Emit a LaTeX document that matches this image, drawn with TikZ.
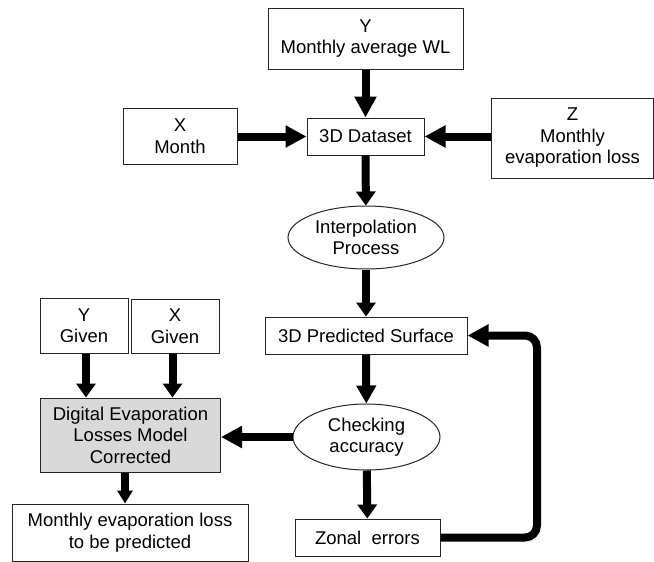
\documentclass[tikz,border=0pt]{standalone}
\usepackage{fontspec}
\setmainfont{Liberation Sans}
\usetikzlibrary{arrows.meta,shapes.geometric}
\begin{document}
\begin{tikzpicture}[x=1pt,y=-1pt,
  box/.style={draw=black!85,line width=1pt,rectangle,inner sep=0pt,align=center,
    font=\fontsize{18.5}{21.5}\selectfont},
  oval/.style={draw=black!85,line width=1pt,ellipse,inner sep=0pt,align=center,
    font=\fontsize{18.5}{21.5}\selectfont},
  bigflow/.style={line width=8pt,-{Triangle[length=21pt,width=21pt]}},
  smallflow/.style={line width=8pt,-{Triangle[length=14pt,width=19pt]}}]
\useasboundingbox (0,0) rectangle (654,562);

% input data
\node[box,minimum width=195pt,minimum height=61pt] (ybox) at (365.5,38.5) {Y\\Monthly average WL};
\node[box,minimum width=114pt,minimum height=56pt] (xbox) at (180,136) {X\\Month};
\node[box,minimum width=117pt,minimum height=37pt] (data) at (365.5,136.5) {3D Dataset};
\node[box,minimum width=162pt,minimum height=80pt] (zbox) at (572.5,138) {Z\\Monthly\\evaporation loss};

% processing column
\node[oval,minimum width=156pt,minimum height=63pt] (interp) at (366,237.5) {Interpolation\\Process};
\node[box,minimum width=202pt,minimum height=37pt] (surf) at (366,335.5) {3D Predicted Surface};
\node[oval,minimum width=147pt,minimum height=66pt] (check) at (366.5,437) {Checking\\accuracy};
\node[box,minimum width=145pt,minimum height=37pt] (zonal) at (367.5,537.5) {Zonal~~errors};

% model branch
\node[box,minimum width=88pt,minimum height=55pt] (ygiven) at (84,325.5) {Y\\Given};
\node[box,minimum width=88pt,minimum height=54pt] (xgiven) at (175,326) {X\\Given};
\node[box,fill=black!15,minimum width=180pt,minimum height=74pt] (model) at (130.5,435)
  {Digital Evaporation\\Losses Model\\Corrected};
\node[box,minimum width=236pt,minimum height=57pt] (result) at (130,532.5)
  {Monthly evaporation loss\\to be predicted};

\coordinate (loopx) at (537,0);
\coordinate (ya) at (86,0);
\coordinate (xa) at (172.5,0);
\coordinate (ma) at (125,0);

% connectors
\draw[bigflow] (ybox) -- (data);
\draw[bigflow] (xbox.east |- data) -- (data.west);
\draw[bigflow] (zbox.west |- data) -- (data.east);
\draw[smallflow] (data) -- (interp);
\draw[smallflow] (interp) -- (surf);
\draw[smallflow,-{Triangle[length=18pt,width=19pt]}] (surf) -- (check);
\draw[smallflow] (check) -- (zonal);
\draw[bigflow] (check.west) -- (model.east |- check.west);
\draw[smallflow] (ya |- ygiven.south) -- (ya |- model.north);
\draw[smallflow] (xa |- xgiven.south) -- (xa |- model.north);
\draw[smallflow,-{Triangle[length=13pt,width=15pt]}] (ma |- model.south) -- (ma |- result.north);
\draw[bigflow,rounded corners=12pt] (zonal.east) -- (loopx |- zonal.east) -- (loopx |- surf.east) -- (surf.east);
\end{tikzpicture}
\end{document}
